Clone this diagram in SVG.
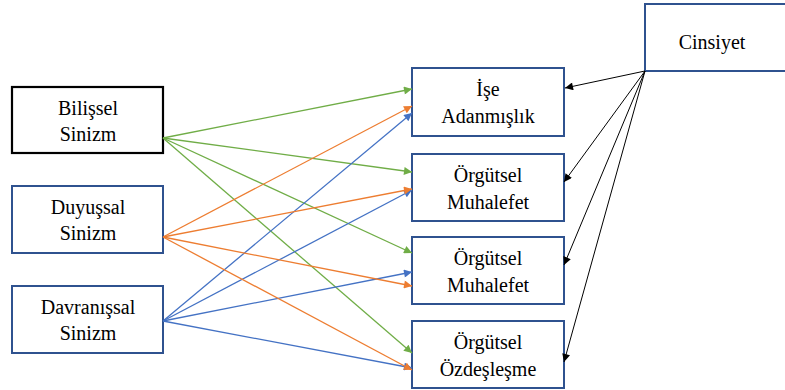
<svg xmlns="http://www.w3.org/2000/svg" width="785" height="390" viewBox="0 0 785 390">
<style>
.box{fill:#fff;stroke:#2F528F;stroke-width:2}
.blk{fill:#fff;stroke:#000;stroke-width:2.2}
.lbl{font-family:'Liberation Serif','DejaVu Serif','Times New Roman',Times,serif;font-size:20px;fill:#000;text-anchor:middle}
.g{stroke:#70AD47;stroke-width:1.3;fill:none}
.o{stroke:#ED7D31;stroke-width:1.3;fill:none}
.b{stroke:#4472C4;stroke-width:1.3;fill:none}
.k{stroke:#000;stroke-width:1;fill:none}
</style>
<defs>
<marker id="mg" viewBox="0 0 10 10" refX="10" refY="5" markerWidth="10" markerHeight="8" markerUnits="userSpaceOnUse" orient="auto"><path d="M0,0 L10,5 L0,10 z" fill="#70AD47"/></marker>
<marker id="mo" viewBox="0 0 10 10" refX="10" refY="5" markerWidth="10" markerHeight="8" markerUnits="userSpaceOnUse" orient="auto"><path d="M0,0 L10,5 L0,10 z" fill="#ED7D31"/></marker>
<marker id="mb" viewBox="0 0 10 10" refX="10" refY="5" markerWidth="10" markerHeight="8" markerUnits="userSpaceOnUse" orient="auto"><path d="M0,0 L10,5 L0,10 z" fill="#4472C4"/></marker>
<marker id="mk" viewBox="0 0 10 10" refX="10" refY="5" markerWidth="10" markerHeight="8" markerUnits="userSpaceOnUse" orient="auto"><path d="M0,0 L10,5 L0,10 z" fill="#000"/></marker>
</defs>
<g id="bilissel"><rect class="blk" x="12" y="87" width="151" height="66"/><text class="lbl" x="88" y="115">Bilişsel</text><text class="lbl" x="88" y="141">Sinizm</text></g>
<g id="duyussal"><rect class="box" x="12" y="186" width="151" height="67"/><text class="lbl" x="88" y="214">Duyuşsal</text><text class="lbl" x="88" y="240">Sinizm</text></g>
<g id="davranissal"><rect class="box" x="12" y="286" width="151" height="67"/><text class="lbl" x="88" y="314">Davranışsal</text><text class="lbl" x="88" y="340">Sinizm</text></g>
<g id="ise"><rect class="box" x="412" y="68" width="152" height="68"/><text class="lbl" x="488" y="96">İşe</text><text class="lbl" x="488" y="123">Adanmışlık</text></g>
<g id="muhalefet1"><rect class="box" x="412" y="154" width="152" height="67"/><text class="lbl" x="488" y="182">Örgütsel</text><text class="lbl" x="488" y="209">Muhalefet</text></g>
<g id="muhalefet2"><rect class="box" x="412" y="237" width="152" height="67"/><text class="lbl" x="488" y="265">Örgütsel</text><text class="lbl" x="488" y="292">Muhalefet</text></g>
<g id="ozdeslesme"><rect class="box" x="412" y="321" width="152" height="67"/><text class="lbl" x="488" y="349">Örgütsel</text><text class="lbl" x="488" y="376">Özdeşleşme</text></g>
<g id="cinsiyet"><rect class="box" x="645" y="4" width="142" height="67"/><text class="lbl" x="712" y="49">Cinsiyet</text></g>
<g id="connectors">
<line class="g" x1="163" y1="138" x2="412" y2="89" marker-end="url(#mg)"/>
<line class="g" x1="163" y1="138" x2="412" y2="172" marker-end="url(#mg)"/>
<line class="g" x1="163" y1="138" x2="412" y2="253" marker-end="url(#mg)"/>
<line class="g" x1="163" y1="138" x2="412" y2="353" marker-end="url(#mg)"/>
<line class="b" x1="163" y1="321" x2="412" y2="113" marker-end="url(#mb)"/>
<line class="b" x1="163" y1="321" x2="412" y2="190" marker-end="url(#mb)"/>
<line class="b" x1="163" y1="321" x2="412" y2="272" marker-end="url(#mb)"/>
<line class="b" x1="163" y1="321" x2="412" y2="368" marker-end="url(#mb)"/>
<line class="o" x1="163" y1="237" x2="412" y2="106" marker-end="url(#mo)"/>
<line class="o" x1="163" y1="237" x2="412" y2="189" marker-end="url(#mo)"/>
<line class="o" x1="163" y1="237" x2="412" y2="286" marker-end="url(#mo)"/>
<line class="o" x1="163" y1="237" x2="412" y2="370" marker-end="url(#mo)"/>
<line class="k" x1="645" y1="71" x2="565" y2="88" marker-end="url(#mk)"/>
<line class="k" x1="645" y1="71" x2="564" y2="182" marker-end="url(#mk)"/>
<line class="k" x1="645" y1="71" x2="564" y2="265" marker-end="url(#mk)"/>
<line class="k" x1="645" y1="71" x2="564" y2="362" marker-end="url(#mk)"/>
</g>
</svg>
